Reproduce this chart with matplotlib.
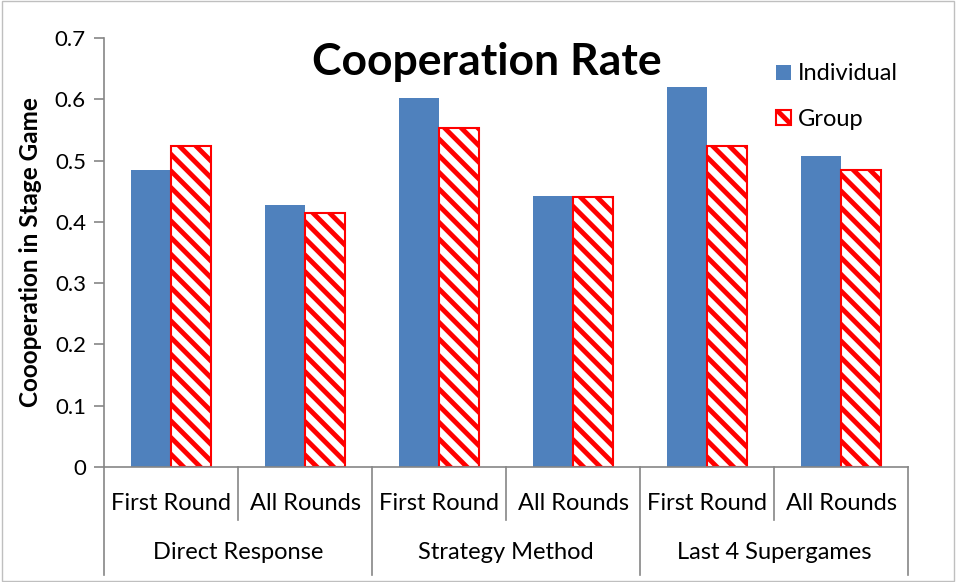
import matplotlib.pyplot as plt
from matplotlib.patches import Rectangle
from matplotlib.ticker import FuncFormatter

plt.rcParams['font.family'] = ['Lato', 'DejaVu Sans']
plt.rcParams['hatch.linewidth'] = 3.5

# data
groups = ["Direct Response", "Strategy Method", "Last 4 Supergames"]
rounds = ["First Round", "All Rounds"]
individual = [0.484, 0.427, 0.602, 0.442, 0.620, 0.507]
group = [0.524, 0.414, 0.553, 0.441, 0.524, 0.485]

blue = "#4F81BD"
axis_gray = "#868686"

fig = plt.figure(figsize=(9.56, 5.82), dpi=100)
ax = fig.add_axes([104/956, 115/582, 804/956, 429/582])

x = list(range(len(individual)))
w = 0.3
ax.bar([i - w/2 for i in x], individual, w, color=blue, label="Individual")
ax.bar([i + w/2 for i in x], group, w, color="white", edgecolor="red",
       linewidth=1.5, hatch="\\\\", label="Group")

ax.set_xlim(-0.5, len(x) - 0.5)
ax.set_ylim(0, 0.7)
ax.set_yticks([i/10 for i in range(8)])
ax.yaxis.set_major_formatter(FuncFormatter(lambda v, p: "0" if v == 0 else f"{v:.1f}"))
ax.tick_params(axis="y", labelsize=16, length=7, color=axis_gray, width=1.2, pad=6)
ax.set_xticks([])
for s in ["top", "right"]:
    ax.spines[s].set_visible(False)
for s in ["left", "bottom"]:
    ax.spines[s].set_color(axis_gray)
    ax.spines[s].set_linewidth(1.2)

ax.set_ylabel("Coooperation in Stage Game", fontsize=17.5, fontweight="bold")
ax.yaxis.set_label_coords(-62/804, 0.5)

# two-level category axis
tr = ax.get_xaxis_transform()
for i in x:
    ax.text(i, -0.084, rounds[i % 2], transform=tr, ha="center", va="center", fontsize=17)
for k, g in enumerate(groups):
    ax.text(2*k + 0.5, -0.20, g, transform=tr, ha="center", va="center", fontsize=17)
for b in [0.5, 2.5, 4.5]:
    ax.plot([b, b], [0, -0.124], transform=tr, color=axis_gray, lw=1.2, clip_on=False)
for b in [-0.5, 1.5, 3.5, 5.5]:
    ax.plot([b, b], [0, -0.252], transform=tr, color=axis_gray, lw=1.2, clip_on=False)

fig.text(487/956, 1 - 62/582, "Cooperation Rate", ha="center", va="center",
         fontsize=32, fontweight="bold")

fig.legend(loc="upper left", bbox_to_anchor=(767/956, 1 - 54/582), frameon=False,
           fontsize=17, handlelength=0.6, handleheight=0.6, handletextpad=0.3,
           labelspacing=1.05, borderaxespad=0)

fig.patches.append(Rectangle((0.002, 0.002), 0.996, 0.996, transform=fig.transFigure,
                             fill=False, edgecolor="#BFBFBF", lw=1))

plt.savefig("out.png", dpi=100)
